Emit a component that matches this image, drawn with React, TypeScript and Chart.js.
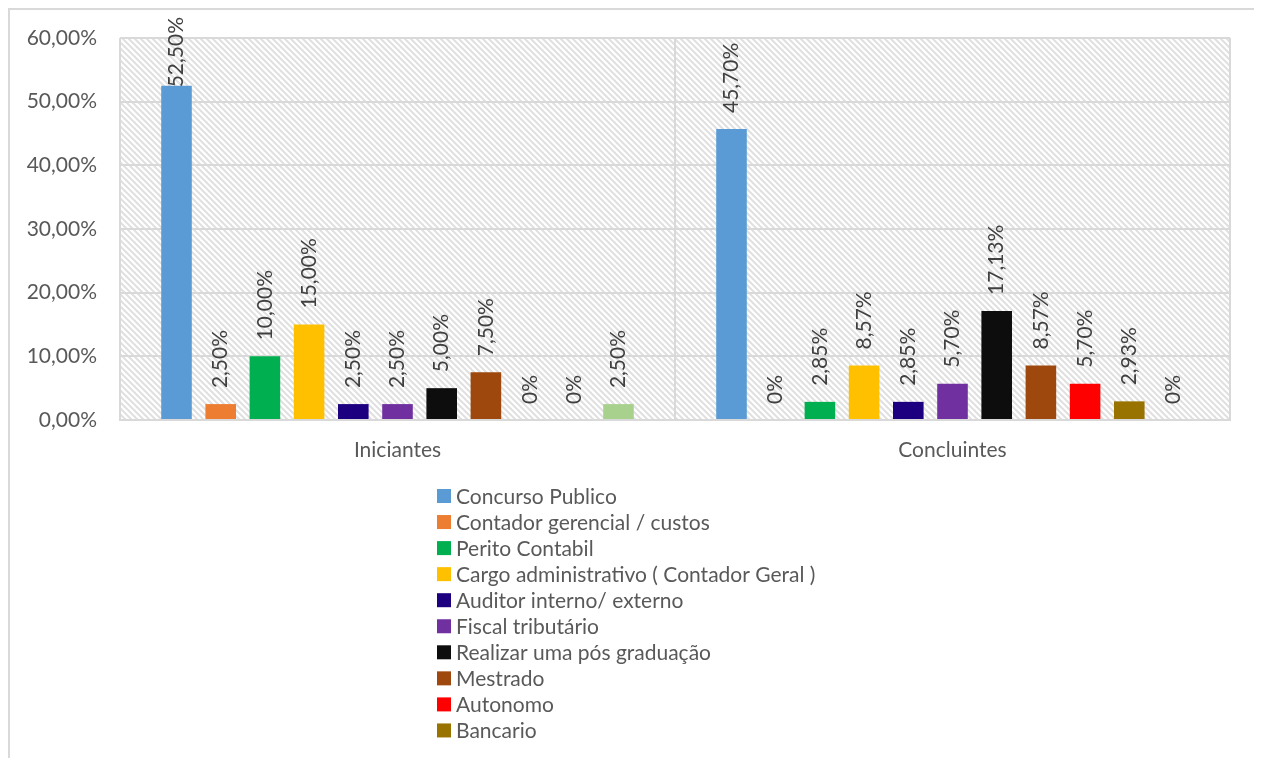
import React, { useEffect, useRef } from "react";
import { Chart, registerables } from "chart.js";

Chart.register(...registerables);

// Groups on the x axis
const categories = ["Iniciantes", "Concluintes"];

// Career plans, one series each
const seriesNames = [
  "Concurso Publico",
  "Contador gerencial / custos",
  "Perito Contabil",
  "Cargo administrativo ( Contador Geral )",
  "Auditor interno/ externo",
  "Fiscal tributário",
  "Realizar uma pós graduação",
  "Mestrado",
  "Autonomo",
  "Bancario",
  "Outros",
];

const seriesColors = [
  "#5b9bd5",
  "#ed7d31",
  "#00b050",
  "#ffc000",
  "#1c0080",
  "#7030a0",
  "#0d0d0d",
  "#9e480e",
  "#ff0000",
  "#997300",
  "#a9d18e",
];

// Percent of answers per group, in series order
const iniciantesValues = [52.5, 2.5, 10, 15, 2.5, 2.5, 5, 7.5, 0, 0, 2.5];
const concluintesValues = [45.7, 0, 2.85, 8.57, 2.85, 5.7, 17.13, 8.57, 5.7, 2.93, 0];

// Value axis
const yMin = 0;
const yMax = 60;
const yStep = 10;

// Number of legend rows shown below the plot
const legendRows = 10;

const FONT = "Lato";
const TEXT_GRAY = "#595959";
const LINE_GRAY = "#d9d9d9";

const fmtPercent = (v: number) =>
  v === 0 ? "0%" : v.toFixed(2).replace(".", ",") + "%";

function makeHatch(): CanvasPattern | string {
  const s = 6;
  const c = document.createElement("canvas");
  c.width = s;
  c.height = s;
  const g = c.getContext("2d");
  if (!g) return "#ffffff";
  g.fillStyle = "#ffffff";
  g.fillRect(0, 0, s, s);
  g.strokeStyle = "#e0e0e0";
  g.lineWidth = 2;
  for (let k = -1; k <= 1; k++) {
    g.beginPath();
    g.moveTo(k * s - 1, -1);
    g.lineTo(k * s + s + 1, s + 1);
    g.stroke();
  }
  const p = g.createPattern(c, "repeat");
  return p || "#ffffff";
}

const hatchBackground = {
  id: "hatchBackground",
  beforeDraw(chart: any) {
    const { ctx, chartArea } = chart;
    ctx.save();
    ctx.fillStyle = makeHatch();
    ctx.fillRect(
      chartArea.left,
      chartArea.top,
      chartArea.right - chartArea.left,
      chartArea.bottom - chartArea.top
    );
    ctx.restore();
  },
};

const barValueLabels = {
  id: "barValueLabels",
  afterDatasetsDraw(chart: any) {
    const { ctx } = chart;
    ctx.save();
    ctx.font = `21px ${FONT}`;
    ctx.fillStyle = "#404040";
    ctx.textAlign = "left";
    ctx.textBaseline = "middle";
    chart.data.datasets.forEach((ds: any, di: number) => {
      const meta = chart.getDatasetMeta(di);
      meta.data.forEach((bar: any, i: number) => {
        const text = fmtPercent(ds.data[i]);
        const w = ctx.measureText(text).width;
        const bottom = Math.max(bar.y - 16, 7 + w);
        ctx.save();
        ctx.translate(bar.x, bottom);
        ctx.rotate(-Math.PI / 2);
        ctx.fillText(text, 0, 0);
        ctx.restore();
      });
    });
    ctx.restore();
  },
};

const listLegend = {
  id: "listLegend",
  afterDraw(chart: any) {
    const { ctx } = chart;
    ctx.save();
    ctx.font = `21px ${FONT}`;
    ctx.textAlign = "left";
    ctx.textBaseline = "middle";
    const boxX = 427;
    const textX = 446;
    const firstRow = 486;
    const pitch = 26.05;
    chart.data.datasets.slice(0, legendRows).forEach((ds: any, i: number) => {
      const cy = firstRow + i * pitch;
      ctx.fillStyle = ds.backgroundColor;
      ctx.fillRect(boxX, cy - 7, 14, 14);
      ctx.fillStyle = TEXT_GRAY;
      ctx.fillText(ds.label, textX, cy + 1);
    });
    ctx.restore();
  },
};

export default function App() {
  const canvasRef = useRef<HTMLCanvasElement | null>(null);

  useEffect(() => {
    const canvas = canvasRef.current;
    if (!canvas) return;
    const datasets = seriesNames.map((name, si) => ({
      label: name,
      data: [iniciantesValues[si], concluintesValues[si]],
      backgroundColor: seriesColors[si],
      borderWidth: 0,
      categoryPercentage: 0.876,
      barPercentage: 0.692,
    }));

    const chart = new Chart(canvas, {
      type: "bar",
      data: { labels: categories, datasets },
      options: {
        animation: false,
        responsive: false,
        devicePixelRatio: 1,
        layout: { padding: { top: 28, right: 26, bottom: 300, left: 0 } },
        plugins: {
          legend: { display: false },
          tooltip: { enabled: false },
        },
        scales: {
          x: {
            grid: {
              display: true,
              offset: true,
              color: LINE_GRAY,
              lineWidth: 2,
              drawTicks: false,
            },
            border: { display: true, color: LINE_GRAY, width: 2 },
            ticks: {
              color: TEXT_GRAY,
              font: { family: FONT, size: 21 },
              padding: 18,
            },
            afterFit(scale: any) {
              scale.height = 50;
            },
          },
          y: {
            min: yMin,
            max: yMax,
            grid: { color: LINE_GRAY, lineWidth: 2, drawTicks: false },
            border: { display: false },
            ticks: {
              stepSize: yStep,
              color: TEXT_GRAY,
              font: { family: FONT, size: 21 },
              padding: 23,
              callback: (v: any) => Number(v).toFixed(2).replace(".", ",") + "%",
            },
            afterFit(scale: any) {
              scale.width = 110;
              scale.paddingTop = 0;
              scale.paddingBottom = 0;
            },
          },
        },
      },
      plugins: [hatchBackground, barValueLabels, listLegend],
    });
    return () => chart.destroy();
  }, []);

  return (
    <div
      style={{
        width: 1246,
        border: `2px solid ${LINE_GRAY}`,
        background: "#ffffff",
      }}
    >
      <canvas
        ref={canvasRef}
        width={1246}
        height={760}
        style={{ display: "block", width: 1246, height: 760 }}
      />
    </div>
  );
}
